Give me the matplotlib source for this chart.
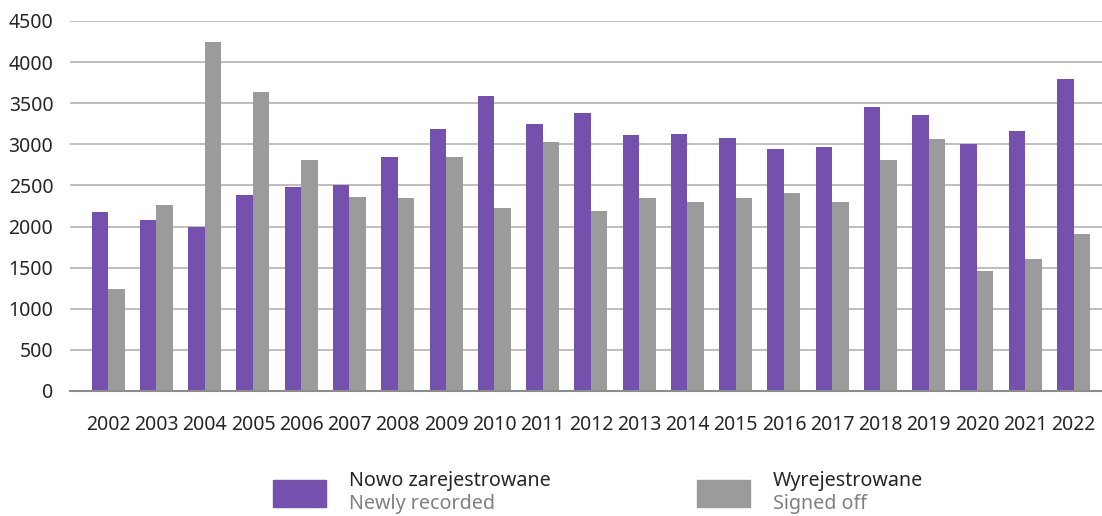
#!/usr/bin/env python3
"""
Grouped bar chart: newly recorded vs signed off, 2002-2022.
Saves out.png
"""
import matplotlib
matplotlib.use("Agg")
import matplotlib.pyplot as plt
from matplotlib.patches import Rectangle
import numpy as np

years = [str(y) for y in range(2002, 2023)]
newly_recorded = [2182, 2084, 2000, 2388, 2485, 2509, 2849, 3189, 3590, 3250, 3383,
                  3116, 3128, 3080, 2946, 2971, 3456, 3359, 3007, 3165, 3796]
signed_off = [1235, 2267, 4245, 3638, 2813, 2364, 2352, 2849, 2230, 3031, 2194,
              2352, 2303, 2352, 2412, 2303, 2813, 3068, 1465, 1611, 1914]
yticks = list(range(0, 4501, 500))

PURPLE = "#7551ad"
GREY = "#9b9b9b"

plt.rcParams["font.family"] = ["Noto Sans", "DejaVu Sans"]

W, H = 1102, 516
fig = plt.figure(figsize=(W / 100, H / 100), dpi=100)
ax = fig.add_axes([70 / W, 1 - 391 / H, 1032 / W, 370 / H])

x = np.arange(len(years))
bw = 0.342
ax.bar(x - bw / 2, newly_recorded, width=bw, color=PURPLE, zorder=3)
ax.bar(x + bw / 2, signed_off, width=bw, color=GREY, zorder=3)

ax.set_xlim(-0.79, len(years) - 0.41)
ax.set_ylim(0, 4500)
ax.set_yticks(yticks)
ax.set_xticks(x)
ax.set_xticklabels(years)
ax.yaxis.grid(True, color="#b3b3b3", linewidth=1.2, zorder=0)
ax.set_axisbelow(True)
for side in ["top", "right", "left"]:
    ax.spines[side].set_visible(False)
ax.spines["bottom"].set_color("#8c8c8c")
ax.spines["bottom"].set_linewidth(1.5)
ax.spines["bottom"].set_zorder(4)
ax.tick_params(axis="both", length=0, labelsize=14, labelcolor="#262626")
ax.tick_params(axis="y", pad=12)
ax.tick_params(axis="x", pad=17)

# legend, drawn by hand (two-tone labels)
entries = [(273, PURPLE, "Nowo zarejestrowane", "Newly recorded"),
           (697, GREY, "Wyrejestrowane", "Signed off")]
for px, col, pl, en in entries:
    fig.add_artist(Rectangle((px / W, 1 - 507 / H), 53 / W, 27 / H,
                             transform=fig.transFigure, color=col))
    fig.text((px + 76) / W, 1 - 481 / H, pl, fontsize=14.2, color="#262626", va="center")
    fig.text((px + 76) / W, 1 - 504 / H, en, fontsize=14.2, color="#808080", va="center")

fig.savefig("out.png", dpi=100)
